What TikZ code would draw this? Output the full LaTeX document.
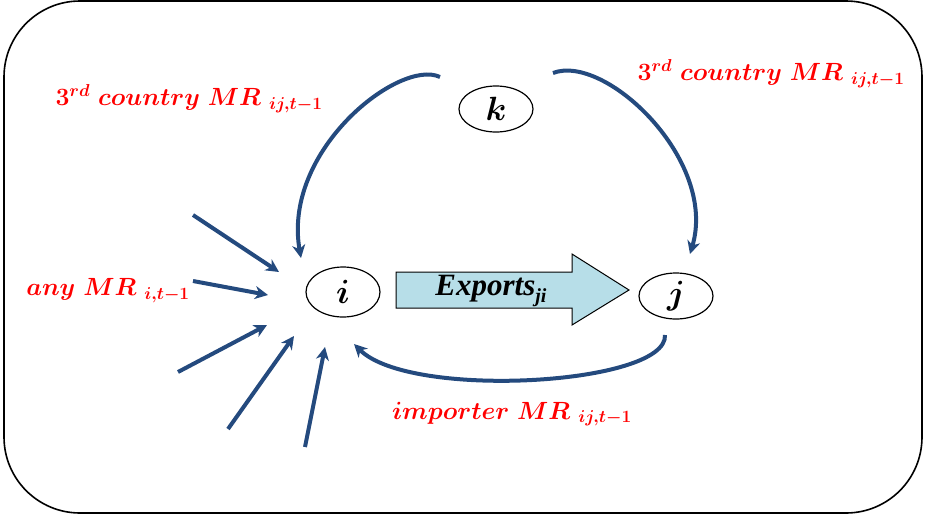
\documentclass[tikz,border=0pt]{standalone}
\usepackage{graphicx}
\usepackage{fontspec}
\newfontfamily\timesfont{Liberation Serif}
\usetikzlibrary{arrows.meta,shapes.geometric}
\definecolor{flowblue}{RGB}{36,74,126}
\definecolor{fatfill}{RGB}{183,222,232}
\definecolor{lblred}{RGB}{255,0,0}
\newcommand{\bigletter}[1]{\scalebox{1.35}{$#1$}}
\begin{document}
\begin{tikzpicture}[x=1pt,y=-1pt,
  country/.style={draw=black,line width=1.2pt,ellipse,minimum width=74pt,minimum height=46pt,inner sep=0pt,font=\fontsize{24.5}{28}\selectfont\boldmath},
  mrlabel/.style={text=lblred,inner sep=0pt,font=\fontsize{24.5}{28}\selectfont\boldmath},
  flow/.style={draw=flowblue,line width=4pt,-{Stealth[length=13pt,width=13pt,inset=4pt]}},
]
\useasboundingbox (0,0) rectangle (927,515);
\draw[line width=1.6pt,rounded corners=76pt] (4,1) rectangle (922,513);

% countries
\node[country] (k) at (496,109) {\bigletter{k}};
\node[country,minimum height=50pt] (i) at (343,292) {\bigletter{i}};
\node[country] (j) at (676,296) {\bigletter{j}};

% fat exports arrow
\draw[line width=1pt,fill=fatfill] (396,272) -- (572,272) -- (572,254) -- (629,290) -- (572,325) -- (572,308) -- (396,308) -- cycle;
\node[inner sep=0pt,font=\timesfont\fontsize{31}{34}\selectfont\bfseries\itshape] (exp) at (491,291) {Exports\raisebox{-0.25em}{\fontsize{20}{24}\selectfont ji}};

% curved flows
\coordinate (kl) at (440,77);
\coordinate (il) at (301,258);
\coordinate (kr) at (553,73);
\coordinate (jr) at (690,254);
\coordinate (jb) at (665,335);
\coordinate (ib) at (354,344);
\draw[flow] (kl) .. controls (400,58) and (282,150) .. (il);
\draw[flow] (kr) .. controls (605,53) and (718,160) .. (jr);
\draw[flow] (jb) .. controls (668,385) and (410,400) .. (ib);

% any MR flows
\coordinate (a1) at (193,215); \coordinate (b1) at (279,272);
\coordinate (a2) at (193,281); \coordinate (b2) at (268,295);
\coordinate (a3) at (178,372); \coordinate (b3) at (267,325);
\coordinate (a4) at (228,429); \coordinate (b4) at (294,336);
\coordinate (a5) at (305,447); \coordinate (b5) at (325,347);
\foreach \n in {1,...,5} \draw[flow] (a\n) -- (b\n);

% labels
\node[mrlabel] (l1) at (189,99) {$3^{rd}\;country\;MR\;{}_{ij,t-1}$};
\node[mrlabel] (l2) at (771,74) {$3^{rd}\;country\;MR\;{}_{ij,t-1}$};
\node[mrlabel] (l3) at (108,291) {$any\;MR\;{}_{i,t-1}$};
\node[mrlabel] (l4) at (512,414) {$importer\;MR\;{}_{ij,t-1}$};
\end{tikzpicture}
\end{document}
